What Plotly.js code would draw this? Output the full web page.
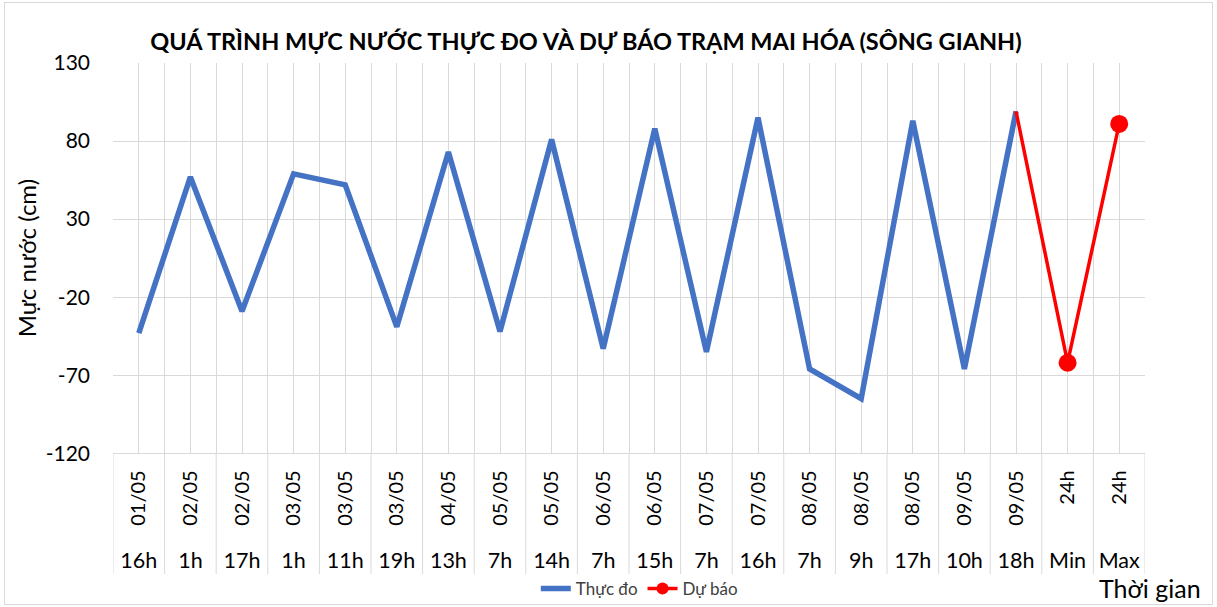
<!DOCTYPE html>
<html>
<head>
<meta charset="utf-8">
<script src="https://cdn.plot.ly/plotly-3.0.1.min.js"></script>
<style>
html,body{margin:0;padding:0;background:#fff;}
#wrap{position:relative;width:1217px;height:607px;}
#frame{position:absolute;left:4px;top:2px;right:4px;bottom:2px;border:1px solid #d9d9d9;pointer-events:none;}
#chart{width:1217px;height:607px;}
</style>
</head>
<body>
<div id="wrap"><div id="chart"></div><div id="frame"></div></div>
<script>
const dateLabels = ["01/05","02/05","02/05","03/05","03/05","03/05","04/05","05/05","05/05","06/05","06/05","07/05","07/05","08/05","08/05","08/05","09/05","09/05","24h","24h"];
const hourLabels = ["16h","1h","17h","1h","11h","19h","13h","7h","14h","7h","15h","7h","16h","7h","9h","17h","10h","18h","Min","Max"];
const observed = [-43, 57, -29, 59, 52, -39, 73, -42, 81, -53, 88, -55, 95, -66, -85, 93, -66, 99];
const forecast = [99, -62, 91];
const forecastStart = 17;
const yTicks = [-120, -70, -20, 30, 80, 130];
const yTickText = ["-120", "-70", "-20", "30", "80", "130"];

const n = dateLabels.length;
const idx = dateLabels.map((_, i) => i);
const obsX = observed.map((_, i) => i);
const fcX = forecast.map((_, i) => forecastStart + i);
const bounds = [];
for (let i = 0; i <= n; i++) bounds.push(i - 0.5);

const FONT = "Lato, 'Open Sans', sans-serif";
const H = 544; // paper height in px (607 - top margin 63)
const yBottomDomain = 153 / H;

const shapes = bounds.map(b => ({
  type: 'line', xref: 'x', yref: 'paper',
  x0: b, x1: b, y0: yBottomDomain, y1: 32 / H,
  line: {color: '#d9d9d9', width: 1}
}));

const traces = [
  {
    x: obsX, y: observed, type: 'scatter', mode: 'lines', name: 'Thực đo',
    line: {color: '#4472C4', width: 5.5}, hoverinfo: 'x+y'
  },
  {
    x: fcX, y: forecast, type: 'scatter', mode: 'lines+markers', name: 'Dự báo',
    line: {color: '#FF0000', width: 3.5},
    marker: {color: '#FF0000', opacity: 1, line: {width: 0}, size: forecast.map((_, i) => i === 0 ? 0 : 18)}
  },
  {x: [0], y: [null], xaxis: 'x2', yaxis: 'y', type: 'scatter', mode: 'markers', showlegend: false, hoverinfo: 'skip'}
];

const layout = {
  width: 1217, height: 607,
  margin: {l: 113, r: 72, t: 63, b: 0},
  paper_bgcolor: '#ffffff', plot_bgcolor: '#ffffff',
  font: {family: FONT, color: '#404040'},
  title: {
    text: '<b>QUÁ TRÌNH MỰC NƯỚC THỰC ĐO VÀ DỰ BÁO TRẠM MAI HÓA (SÔNG GIANH)</b>',
    font: {family: FONT, size: 23.5, color: '#000000'},
    x: 586 / 1217, xref: 'container', xanchor: 'center',
    y: 1 - 42 / 607, yref: 'container', yanchor: 'middle', automargin: false
  },
  showlegend: true,
  legend: {
    orientation: 'h', x: 0.51, xanchor: 'center',
    y: 17 / H, yanchor: 'middle',
    font: {family: FONT, size: 17, color: '#404040'}, bgcolor: 'rgba(0,0,0,0)'
  },
  xaxis: {
    automargin: false,
    range: [-0.5, n - 0.5], tickmode: 'array', tickvals: idx, ticktext: dateLabels,
    tickangle: -90, ticks: '', showline: true, linecolor: '#d9d9d9', linewidth: 1,
    showgrid: true, gridcolor: '#d9d9d9', gridwidth: 1, zeroline: false,
    minor: {tickmode: 'array', tickvals: bounds, showgrid: true, gridcolor: '#d9d9d9', gridwidth: 1, ticks: ''},
    ticklabelstandoff: 8,
    tickfont: {family: FONT, size: 20, color: '#000000'}, fixedrange: true
  },
  xaxis2: {
    automargin: false,
    overlaying: 'x', anchor: 'free', position: 61 / H, side: 'bottom',
    range: [-0.5, n - 0.5], tickmode: 'array', tickvals: idx, ticktext: hourLabels,
    ticks: '', showline: false, showgrid: false, zeroline: false,
    tickfont: {family: FONT, size: 21.5, color: '#000000'}, fixedrange: true
  },
  yaxis: {
    automargin: false,
    domain: [yBottomDomain, 1], range: [-120, 130],
    tickmode: 'array', tickvals: yTicks, ticktext: yTickText, ticks: '',
    showgrid: true, gridcolor: '#d9d9d9', gridwidth: 1, zeroline: false,
    showline: false, ticklabelstandoff: 22,
    tickfont: {family: FONT, size: 21, color: '#000000'},
    title: {text: 'Mực nước (cm)', font: {family: FONT, size: 24, color: '#000000'}, standoff: 2},
    fixedrange: true
  },
  shapes: shapes,
  annotations: [{
    text: 'Thời gian', xref: 'paper', yref: 'paper',
    x: (1150 - 113) / 1032, y: 18 / H, xanchor: 'center', yanchor: 'middle',
    showarrow: false, font: {family: FONT, size: 25, color: '#000000'}
  }]
};

Plotly.newPlot('chart', traces, layout, {displayModeBar: false, staticPlot: true});
</script>
</body>
</html>
